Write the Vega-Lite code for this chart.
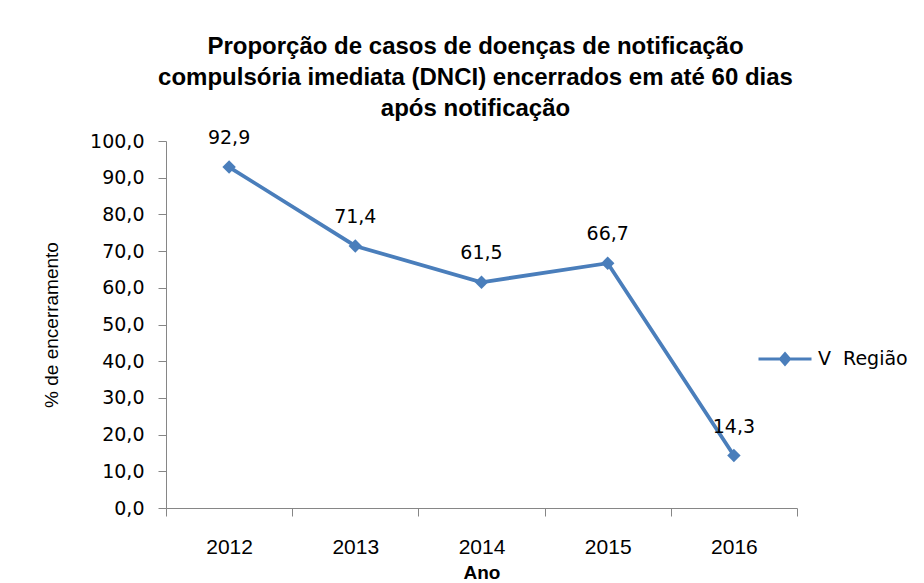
{
  "$schema": "https://vega.github.io/schema/vega-lite/v6.json",
  "width": 631,
  "height": 367,
  "autosize": {"type": "none"},
  "padding": {"left": 166, "top": 141, "right": 127, "bottom": 75},
  "background": "white",
  "config": {
    "locale": {"number": {"decimal": ",", "thousands": ".", "grouping": [3], "currency": ["R$", ""]}},
    "view": {"stroke": null},
    "axis": {"grid": false, "domainColor": "#868686", "tickColor": "#868686", "domainWidth": 1, "tickWidth": 1, "labelColor": "black", "titleColor": "black"}
  },
  "title": {
    "text": ["Proporção de casos de doenças de notificação", "compulsória imediata (DNCI) encerrados em até 60 dias", "após notificação"],
    "font": "Liberation Sans",
    "fontSize": 24,
    "fontWeight": "bold",
    "lineHeight": 31,
    "color": "black",
    "anchor": "middle",
    "offset": 8,
    "dx": -6
  },
  "data": {
    "values": [
      {"ano": "2012", "valor": 92.9, "serie": "V\u00a0 Região"},
      {"ano": "2013", "valor": 71.4, "serie": "V\u00a0 Região"},
      {"ano": "2014", "valor": 61.5, "serie": "V\u00a0 Região"},
      {"ano": "2015", "valor": 66.7, "serie": "V\u00a0 Região"},
      {"ano": "2016", "valor": 14.3, "serie": "V\u00a0 Região"}
    ]
  },
  "encoding": {
    "x": {
      "field": "ano",
      "type": "ordinal",
      "bandPosition": 0.5,
      "scale": {"type": "band", "paddingInner": 0, "paddingOuter": 0},
      "axis": {
        "title": "Ano",
        "labelAngle": 0,
        "labelFont": "Liberation Sans",
        "labelFontSize": 21,
        "labelPadding": 20,
        "tickSize": 8,
        "tickBand": "extent",
        "titleFont": "Liberation Sans",
        "titleFontSize": 19,
        "titleFontWeight": "bold",
        "titlePadding": 6
      }
    },
    "y": {
      "field": "valor",
      "type": "quantitative",
      "scale": {"domain": [0, 100], "nice": false},
      "axis": {
        "title": "% de encerramento",
        "values": [0, 10, 20, 30, 40, 50, 60, 70, 80, 90, 100],
        "format": ".1f",
        "labelFont": "DejaVu Sans",
        "labelFontSize": 19,
        "labelPadding": 14,
        "tickSize": 8,
        "titleFont": "Liberation Sans",
        "titleFontSize": 19,
        "titleFontWeight": "normal",
        "titlePadding": 28
      }
    }
  },
  "layer": [
    {
      "mark": {"type": "line", "strokeWidth": 3.8, "point": {"shape": "diamond", "size": 180, "filled": true, "opacity": 1}},
      "encoding": {
        "color": {
          "field": "serie",
          "type": "nominal",
          "scale": {"range": ["#4A7EBB"]},
          "legend": {
            "title": null,
            "orient": "none",
            "legendX": 591,
            "legendY": 190,
            "padding": 0,
            "symbolType": "M-1,0L1,0M0,-0.2L0.17,0L0,0.2L-0.17,0Z",
            "symbolSize": 2809,
            "symbolStrokeWidth": 3,
            "symbolFillColor": "#4A7EBB",
            "symbolStrokeColor": "#4A7EBB",
            "labelFont": "DejaVu Sans",
            "labelFontSize": 19,
            "labelColor": "black",
            "labelOffset": 5
          }
        }
      }
    },
    {
      "mark": {"type": "text", "dy": -29, "font": "DejaVu Sans", "fontSize": 19, "color": "black", "baseline": "middle"},
      "encoding": {
        "text": {"field": "valor", "type": "quantitative", "format": ".1f"}
      }
    }
  ]
}
